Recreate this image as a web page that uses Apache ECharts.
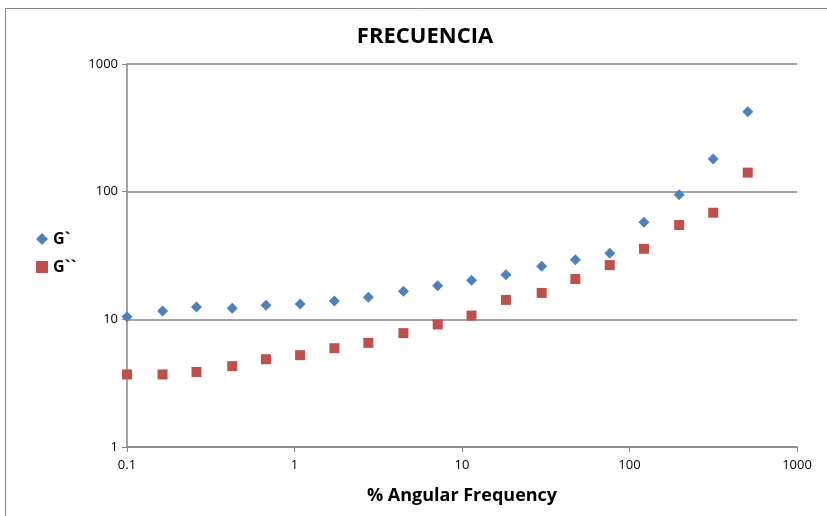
<!DOCTYPE html>
<html>
<head>
<meta charset="utf-8">
<script src="https://cdn.jsdelivr.net/npm/echarts@6/dist/echarts.min.js"></script>
<style>
  html, body { margin: 0; padding: 0; background: #fff; }
  #chart { width: 827px; height: 516px; }
</style>
</head>
<body>
<div id="chart"></div>
<script>
  // frecuencia angular (eje x)
  var freq = [0.1, 0.163, 0.26, 0.425, 0.676, 1.08, 1.73, 2.76, 4.47, 7.16, 11.4,
              18.3, 29.9, 47.5, 76.2, 122, 198, 316, 508];
  // modulo G`
  var gPrime = [10.5, 11.6, 12.5, 12.2, 12.9, 13.2, 13.9, 14.9, 16.6, 18.3, 20.2,
                22.3, 26.0, 29.3, 33.0, 57.5, 94.7, 180, 422];
  // modulo G``
  var gDouble = [3.70, 3.70, 3.87, 4.30, 4.87, 5.24, 5.94, 6.54, 7.80, 9.12, 10.7,
                 14.2, 16.1, 20.7, 26.6, 35.7, 54.8, 68.4, 141];

  var font = '"Open Sans", "Liberation Sans", sans-serif';

  function pairs(xs, ys) {
    return xs.map(function (x, i) { return [x, ys[i]]; });
  }

  var chart = echarts.init(document.getElementById('chart'));
  chart.setOption({
    animation: false,
    backgroundColor: '#fff',
    graphic: [{
      type: 'rect',
      shape: { x: 5.5, y: 8.5, width: 840, height: 520 },
      style: { fill: 'none', stroke: '#888', lineWidth: 1 },
      silent: true
    }],
    title: {
      text: 'FRECUENCIA',
      left: 420,
      top: 21,
      textAlign: 'center',
      textStyle: { fontFamily: font, fontSize: 22, fontWeight: 'bold', color: '#000' }
    },
    legend: {
      orient: 'vertical',
      left: 31,
      top: 226,
      itemGap: 12,
      itemWidth: 12,
      itemHeight: 12,
      textStyle: { fontFamily: font, fontSize: 16, fontWeight: 'bold', color: '#000' },
      data: [{ name: 'G`', icon: 'diamond' }, { name: 'G``', icon: 'rect' }]
    },
    grid: { left: 127, right: 30, top: 64, bottom: 69, containLabel: false },
    xAxis: {
      type: 'log',
      logBase: 10,
      min: 0.1,
      max: 1000,
      name: '% Angular Frequency',
      nameLocation: 'middle',
      nameGap: 40,
      nameTextStyle: { fontFamily: font, fontSize: 18, fontWeight: 'bold', color: '#000' },
      axisLine: { lineStyle: { color: '#868686', width: 1.5 } },
      axisTick: { show: true, length: 5, lineStyle: { color: '#868686' } },
      axisLabel: {
        fontFamily: font, fontSize: 13, color: '#000', margin: 12,
        formatter: function (v) { return String(+v.toPrecision(6)); }
      },
      splitLine: { show: false },
      minorTick: { show: false }
    },
    yAxis: {
      type: 'log',
      logBase: 10,
      min: 1,
      max: 1000,
      axisLine: { show: true, lineStyle: { color: '#868686', width: 1.5 } },
      axisTick: { show: true, length: 5, lineStyle: { color: '#868686' } },
      axisLabel: {
        fontFamily: font, fontSize: 13, color: '#000', margin: 9,
        formatter: function (v) { return String(+v.toPrecision(6)); }
      },
      splitLine: { show: true, lineStyle: { color: '#868686', width: 1.5 } }
    },
    series: [
      {
        name: 'G`',
        type: 'scatter',
        symbol: 'diamond',
        symbolSize: [11, 11],
        itemStyle: { color: '#4F81BD', opacity: 1 },
        data: pairs(freq, gPrime)
      },
      {
        name: 'G``',
        type: 'scatter',
        symbol: 'rect',
        symbolSize: [10, 10],
        itemStyle: { color: '#C0504D', opacity: 1 },
        data: pairs(freq, gDouble)
      }
    ]
  });
</script>
</body>
</html>
